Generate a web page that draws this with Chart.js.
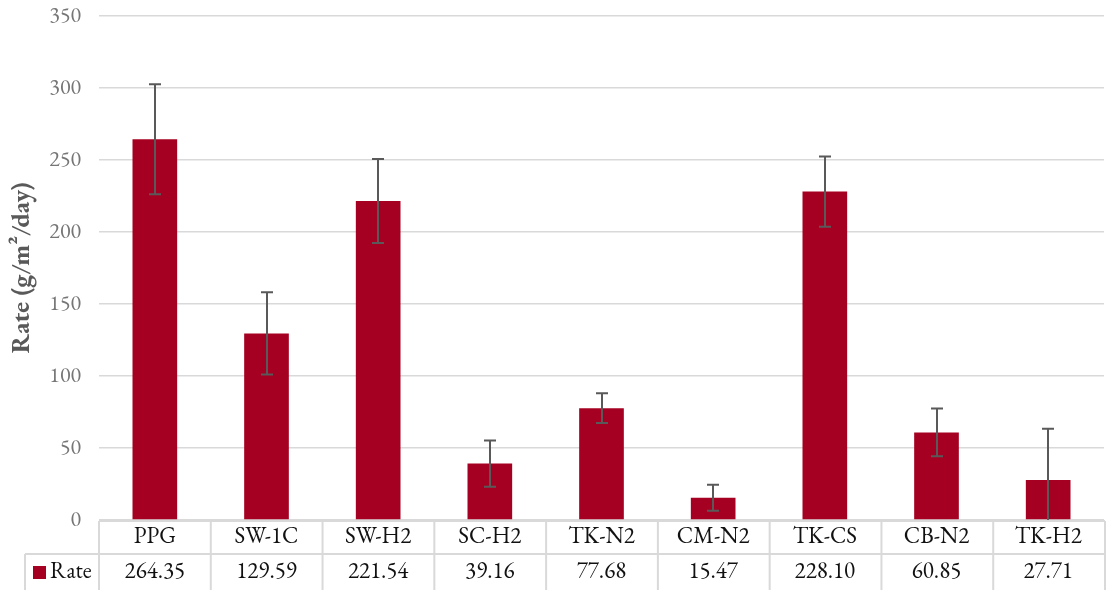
<!DOCTYPE html>
<html>
<head>
<meta charset="utf-8">
<script src="https://cdn.jsdelivr.net/npm/chart.js@4.4.1/dist/chart.umd.min.js"></script>
<style>
  html, body { margin: 0; padding: 0; background: #ffffff; }
  #wrap { width: 1107px; height: 590px; position: relative; }
</style>
</head>
<body>
<div id="wrap"><canvas id="c" width="1107" height="590"></canvas></div>
<script>
// Sample categories and measured deposition rates
const categories = ['PPG', 'SW-1C', 'SW-H2', 'SC-H2', 'TK-N2', 'CM-N2', 'TK-CS', 'CB-N2', 'TK-H2'];
const rateValues = [264.35, 129.59, 221.54, 39.16, 77.68, 15.47, 228.10, 60.85, 27.71];
const rateErrors = [38.2, 28.5, 29.2, 16.0, 10.4, 9.0, 24.4, 16.5, 35.6];
const seriesName = 'Rate';
const yTicks = { min: 0, max: 350, step: 50 };

const FONT = "'EB Garamond', Garamond, 'Liberation Serif', 'DejaVu Serif', serif";
const BAR_COLOR = '#A50021';
const GRID_COLOR = '#d9d9d9';
const TEXT_GRAY = '#595959';
const TICK_GRAY = '#767676';

// Error bars drawn through the value scale
const errorBarPlugin = {
  id: 'errorBars',
  afterDatasetsDraw(chart) {
    const { ctx, chartArea, scales: { x, y } } = chart;
    ctx.save();
    ctx.beginPath();
    ctx.rect(chartArea.left, chartArea.top - 10, chartArea.right - chartArea.left, chartArea.bottom - chartArea.top + 11);
    ctx.clip();
    ctx.strokeStyle = TEXT_GRAY;
    ctx.lineWidth = 2;
    const cap = 6;
    rateValues.forEach((v, i) => {
      const px = Math.round(x.getPixelForValue(i));
      const top = y.getPixelForValue(v + rateErrors[i]);
      const bot = y.getPixelForValue(v - rateErrors[i]);
      ctx.beginPath();
      ctx.moveTo(px, top);
      ctx.lineTo(px, bot);
      ctx.moveTo(px - cap, top);
      ctx.lineTo(px + cap, top);
      if (v - rateErrors[i] >= 0) {
        ctx.moveTo(px - cap, bot);
        ctx.lineTo(px + cap, bot);
      }
      ctx.stroke();
    });
    ctx.restore();
  }
};

// Data table under the plot: category row and value row with legend key
const dataTablePlugin = {
  id: 'dataTable',
  afterDraw(chart) {
    const { ctx, chartArea, scales: { x } } = chart;
    const left = chartArea.left, right = chartArea.right + 1;
    const rowTop = chartArea.bottom + 1;
    const rowMid = rowTop + 33;
    const rowBot = rowMid + 38;
    const keyLeft = 25;
    const n = categories.length;
    const colW = (right - left) / n;

    ctx.save();
    ctx.strokeStyle = GRID_COLOR;
    ctx.lineWidth = 2;
    ctx.beginPath();
    ctx.moveTo(left, rowTop); ctx.lineTo(right, rowTop);
    ctx.moveTo(keyLeft, rowMid); ctx.lineTo(right, rowMid);
    ctx.moveTo(keyLeft, rowMid); ctx.lineTo(keyLeft, rowBot);
    for (let i = 0; i <= n; i++) {
      const lx = left + colW * i;
      ctx.moveTo(lx, rowTop); ctx.lineTo(lx, rowBot);
    }
    ctx.stroke();

    ctx.fillStyle = '#111111';
    ctx.font = '23px ' + FONT;
    ctx.textAlign = 'center';
    ctx.textBaseline = 'middle';
    categories.forEach((c, i) => {
      const cx = x.getPixelForValue(i);
      ctx.fillText(c, cx, rowTop + 16);
      ctx.fillText(rateValues[i].toFixed(2), cx, rowMid + 18);
    });

    ctx.fillStyle = BAR_COLOR;
    ctx.fillRect(33, rowMid + 12, 13, 13);
    ctx.fillStyle = '#111111';
    ctx.textAlign = 'left';
    ctx.fillText(seriesName, 50, rowMid + 18);
    ctx.restore();
  }
};

new Chart(document.getElementById('c'), {
  type: 'bar',
  data: {
    labels: categories,
    datasets: [{
      label: seriesName,
      data: rateValues,
      backgroundColor: BAR_COLOR,
      borderWidth: 0,
      categoryPercentage: 1.0,
      barPercentage: 0.4
    }]
  },
  options: {
    responsive: false,
    animation: false,
    layout: { padding: { top: 16, right: 3, bottom: 70, left: 0 } },
    plugins: {
      legend: { display: false },
      tooltip: { enabled: false }
    },
    scales: {
      x: {
        display: false,
        grid: { display: false }
      },
      y: {
        min: yTicks.min,
        max: yTicks.max,
        ticks: {
          stepSize: yTicks.step,
          color: TICK_GRAY,
          font: { family: FONT, size: 22 },
          padding: 18
        },
        grid: { color: GRID_COLOR, lineWidth: 1.5, drawTicks: false },
        border: { display: false },
        title: {
          display: true,
          text: 'Rate (g/m²/day)',
          color: TEXT_GRAY,
          font: { family: FONT, size: 26, weight: 'bold' },
          padding: { top: 6, bottom: 4 }
        },
        afterFit(scale) {
          scale.width = 99;
          scale.paddingTop = 0;
          scale.paddingBottom = 0;
        }
      }
    }
  },
  plugins: [errorBarPlugin, dataTablePlugin]
});
</script>
</body>
</html>
